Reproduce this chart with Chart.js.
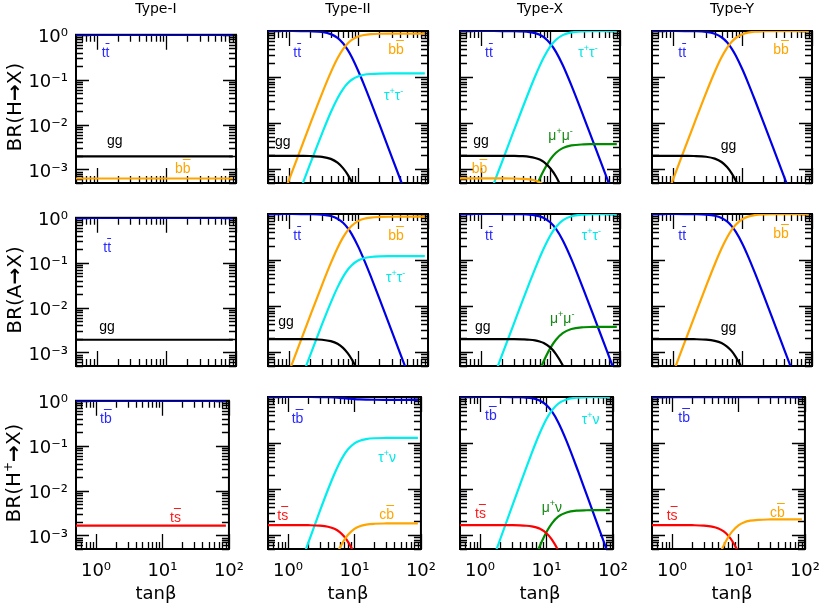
<!DOCTYPE html>
<html><head><meta charset="utf-8">
<script src="https://cdn.jsdelivr.net/npm/chart.js@4.4.1/dist/chart.umd.min.js"></script>
<style>
html,body{margin:0;padding:0;background:#fff;}
#wrap{position:relative;width:830px;height:610px;overflow:hidden;background:#fff;}
canvas{position:absolute;}
.t{position:absolute;white-space:nowrap;}
.title{font-family:"DejaVu Sans";font-size:14px;line-height:14px;transform:translateX(-50%);}
.ytitle{font-family:"DejaVu Sans";font-size:20px;line-height:20px;transform:translate(-50%,-50%) rotate(-90deg);}
.xtitle{font-family:"DejaVu Sans";font-size:18px;line-height:18px;transform:translateX(-50%);}
.lab{font-family:"Liberation Sans";font-size:14px;line-height:14px;}
.ob{text-decoration:overline;}
sup{font-size:9px;vertical-align:0;position:relative;top:-6px;}
.ytitle sup{font-size:12px;top:-8px;}
</style></head>
<body><div id="wrap"></div>
<script>
// ---------- data ----------
const TANB = [0.5, 0.7, 1, 1.5, 2, 3, 4, 5, 6, 7, 8, 10, 12, 15, 20, 30, 40, 50, 70, 90];
const X_TICKS = [1, 10, 100];
const X_TICK_LABELS = ['10⁰', '10¹', '10²'];
const Y_TICKS = [1e-3, 1e-2, 1e-1, 1];
const Y_TICK_LABELS = ['10⁻³', '10⁻²', '10⁻¹', '10⁰'];
const TYPES = ['Type-I', 'Type-II', 'Type-X', 'Type-Y'];
const ROW_TITLES = ['BR(H<b>→</b>X)', 'BR(A<b>→</b>X)', 'BR(H<sup>+</sup><b>→</b>X)'];

// H -> X
const H1_tt = [0.998,0.998,0.998,0.998,0.998,0.998,0.998,0.998,0.998,0.998,0.998,0.998,0.998,0.998,0.998,0.998,0.998,0.998,0.998,0.998];
const H1_gg = [1.95e-3,1.95e-3,1.95e-3,1.95e-3,1.95e-3,1.95e-3,1.95e-3,1.95e-3,1.95e-3,1.95e-3,1.95e-3,1.95e-3,1.95e-3,1.95e-3,1.95e-3,1.95e-3,1.95e-3,1.95e-3,1.95e-3,1.95e-3];
const H1_bb = [6.3e-4,6.3e-4,6.3e-4,6.3e-4,6.3e-4,6.3e-4,6.3e-4,6.3e-4,6.3e-4,6.3e-4,6.3e-4,6.3e-4,6.3e-4,6.3e-4,6.3e-4,6.3e-4,6.3e-4,6.3e-4,6.3e-4,6.3e-4];

const H2_tt = [1.0,1.0,0.999,0.997,0.990,0.950,0.856,0.710,0.541,0.389,0.272,0.132,0.0686,0.0293,0.00945,0.00188,5.96e-4,2.44e-4,6.36e-5,2.33e-5];
const H2_bb = [3.6e-5,1.38e-4,5.76e-4,2.91e-3,9.15e-3,0.0443,0.126,0.255,0.404,0.538,0.641,0.764,0.819,0.854,0.872,0.878,0.88,0.88,0.88,0.88];
const H2_tau = [4.9e-6,1.9e-5,7.9e-5,3.97e-4,1.25e-3,6.0e-3,0.0172,0.0348,0.055,0.0733,0.0874,0.104,0.112,0.1165,0.119,0.12,0.12,0.12,0.12,0.12];
const H2_gg = [1.95e-3,1.95e-3,1.95e-3,1.94e-3,1.93e-3,1.85e-3,1.67e-3,1.38e-3,1.05e-3,7.6e-4,5.3e-4,2.6e-4,1.3e-4,5.7e-5,1.8e-5,3.7e-6,1.2e-6,4.8e-7,1.2e-7,4.5e-8];

const HX_tt = [1,1,1,1,0.9986,0.9929,0.9778,0.9474,0.8968,0.8242,0.7332,0.5295,0.3519,0.1819,0.0657,0.0137,4.38e-3,1.80e-3,4.69e-4,1.71e-4];
const HX_tau = [5.5e-6,2.1e-5,8.8e-5,4.5e-4,1.41e-3,7.1e-3,0.0221,0.0523,0.1027,0.175,0.2655,0.468,0.645,0.814,0.930,0.981,0.991,0.993,0.995,0.995];
const HX_mu = [1.9e-8,7.5e-8,3.1e-7,1.6e-6,5.0e-6,2.5e-5,7.8e-5,1.84e-4,3.6e-4,6.2e-4,9.3e-4,1.65e-3,2.27e-3,2.86e-3,3.27e-3,3.45e-3,3.48e-3,3.49e-3,3.5e-3,3.5e-3];
const HX_gg = [1.95e-3,1.95e-3,1.95e-3,1.95e-3,1.95e-3,1.94e-3,1.91e-3,1.85e-3,1.75e-3,1.61e-3,1.43e-3,1.03e-3,6.9e-4,3.5e-4,1.3e-4,2.7e-5,8.5e-6,3.5e-6,9.1e-7,3.3e-7];
const HX_bb = [6.3e-4,6.3e-4,6.3e-4,6.3e-4,6.29e-4,6.26e-4,6.16e-4,5.97e-4,5.65e-4,5.19e-4,4.62e-4,3.34e-4,2.2e-4,1.1e-4,4.1e-5,8.6e-6,2.8e-6,1.1e-6,3e-7,1.1e-7];

const HY_tt = [1,1,0.9994,0.997,0.9907,0.9545,0.8691,0.7312,0.5674,0.4145,0.2933,0.1453,0.0758,0.0325,0.01051,2.094e-3,6.64e-4,2.72e-4,7.08e-5,2.59e-5];
const HY_bb = [3.7e-5,1.41e-4,5.86e-4,2.96e-3,9.3e-3,0.0454,0.1305,0.268,0.4313,0.5838,0.7046,0.8521,0.9214,0.9646,0.9865,0.9949,0.9963,0.9967,0.997,0.997];
const HY_gg = [1.95e-3,1.95e-3,1.95e-3,1.94e-3,1.93e-3,1.86e-3,1.69e-3,1.43e-3,1.11e-3,8.1e-4,5.7e-4,2.8e-4,1.5e-4,6.3e-5,2.0e-5,4.1e-6,1.3e-6,5.3e-7,1.4e-7,5e-8];

// A -> X
const A1_tt = [0.998,0.998,0.998,0.998,0.998,0.998,0.998,0.998,0.998,0.998,0.998,0.998,0.998,0.998,0.998,0.998,0.998,0.998,0.998,0.998];
const A1_gg = [1.92e-3,1.92e-3,1.92e-3,1.92e-3,1.92e-3,1.92e-3,1.92e-3,1.92e-3,1.92e-3,1.92e-3,1.92e-3,1.92e-3,1.92e-3,1.92e-3,1.92e-3,1.92e-3,1.92e-3,1.92e-3,1.92e-3,1.92e-3];

const A2_tt = [1.0,1.0,1.0,0.998,0.993,0.967,0.902,0.791,0.646,0.496,0.366,0.191,0.102,0.0446,0.0146,0.00291,9.2e-4,3.78e-4,9.85e-5,3.6e-5];
const A2_bb = [2.3e-5,8.9e-5,3.7e-4,1.87e-3,5.9e-3,0.029,0.0855,0.183,0.310,0.441,0.555,0.708,0.786,0.836,0.862,0.872,0.874,0.875,0.875,0.875];
const A2_tau = [3.2e-6,1.24e-5,5.2e-5,2.6e-4,8.2e-4,4.04e-3,0.0119,0.0255,0.0432,0.0615,0.0773,0.0987,0.1096,0.1165,0.1202,0.1216,0.122,0.122,0.122,0.122];
const A2_gg = [1.92e-3,1.92e-3,1.92e-3,1.92e-3,1.91e-3,1.86e-3,1.73e-3,1.52e-3,1.24e-3,9.5e-4,7.0e-4,3.7e-4,2.0e-4,8.6e-5,2.8e-5,5.6e-6,1.8e-6,7.3e-7,1.9e-7,6.9e-8];

const AX_tt = [1,1,1,1,0.9991,0.9957,0.9865,0.9677,0.9353,0.8864,0.8206,0.6521,0.4747,0.2701,0.1048,0.0226,7.27e-3,2.99e-3,7.8e-4,2.86e-4];
const AX_tau = [3.3e-6,1.27e-5,5.3e-5,2.69e-4,8.5e-4,4.28e-3,0.01345,0.0322,0.0644,0.1131,0.1787,0.3465,0.5232,0.727,0.8916,0.9735,0.9887,0.993,0.995,0.996];
const AX_mu = [1.2e-8,4.5e-8,1.9e-7,9.6e-7,3.0e-6,1.5e-5,4.8e-5,1.15e-4,2.3e-4,4.0e-4,6.4e-4,1.24e-3,1.86e-3,2.59e-3,3.18e-3,3.47e-3,3.52e-3,3.54e-3,3.55e-3,3.55e-3];
const AX_gg = [1.92e-3,1.92e-3,1.92e-3,1.92e-3,1.92e-3,1.91e-3,1.89e-3,1.86e-3,1.80e-3,1.70e-3,1.58e-3,1.25e-3,9.1e-4,5.2e-4,2.0e-4,4.3e-5,1.4e-5,5.7e-6,1.5e-6,5.5e-7];

const AY_tt = [1,1,0.9997,0.9982,0.9945,0.9727,0.9185,0.8218,0.6898,0.5455,0.4130,0.2237,0.1220,0.0539,0.01769,3.544e-3,1.124e-3,4.61e-4,1.2e-4,4.39e-5];
const AY_bb = [2.2e-5,8.3e-5,3.46e-4,1.75e-3,5.5e-3,0.0272,0.0812,0.1776,0.3085,0.4524,0.5853,0.7740,0.8754,0.9433,0.9794,0.9935,0.9959,0.9965,0.9969,0.997];
const AY_gg = [1.92e-3,1.92e-3,1.92e-3,1.92e-3,1.91e-3,1.87e-3,1.76e-3,1.58e-3,1.32e-3,1.05e-3,7.9e-4,4.3e-4,2.3e-4,1.0e-4,3.4e-5,6.8e-6,2.2e-6,8.9e-7,2.3e-7,8.4e-8];

// H+ -> X
const C1_tb = [0.998,0.998,0.998,0.998,0.998,0.998,0.998,0.998,0.998,0.998,0.998,0.998,0.998,0.998,0.998,0.998,0.998,0.998,0.998,0.998];
const C1_ts = [1.65e-3,1.65e-3,1.65e-3,1.65e-3,1.65e-3,1.65e-3,1.65e-3,1.65e-3,1.65e-3,1.65e-3,1.65e-3,1.65e-3,1.65e-3,1.65e-3,1.65e-3,1.65e-3,1.65e-3,1.65e-3,1.65e-3,1.65e-3];

const C2_tb = [1.0,1.0,1.0,0.9998,0.9993,0.9967,0.9901,0.9783,0.9618,0.9434,0.9261,0.9007,0.8867,0.8772,0.8721,0.8701,0.8697,0.8696,0.8696,0.8696];
const C2_tau = [2.59e-6,9.94e-6,4.14e-5,2.09e-4,6.59e-4,3.27e-3,9.79e-3,0.02156,0.03794,0.05624,0.07344,0.09868,0.11257,0.12202,0.12708,0.12907,0.12941,0.1295,0.12955,0.12956];
const C2_ts = [1.65e-3,1.65e-3,1.65e-3,1.647e-3,1.642e-3,1.608e-3,1.525e-3,1.375e-3,1.167e-3,9.34e-4,7.15e-4,3.93e-4,2.16e-4,9.6e-5,3.17e-5,6.35e-6,2.0e-6,8.3e-7,2.2e-7,7.9e-8];
const C2_cb = [3.6e-8,1.38e-7,5.75e-7,2.9e-6,9.15e-6,4.54e-5,1.36e-4,3.0e-4,5.27e-4,7.81e-4,1.02e-3,1.37e-3,1.564e-3,1.695e-3,1.765e-3,1.793e-3,1.798e-3,1.799e-3,1.8e-3,1.8e-3];

const CX_tb = [1,1,1,0.9997,0.9992,0.996,0.9874,0.9698,0.9393,0.8931,0.8304,0.6672,0.4916,0.2837,0.1114,0.02416,7.77e-3,3.2e-3,8.35e-4,3.06e-4];
const CX_tau = [3.1e-6,1.2e-5,4.97e-5,2.51e-4,7.94e-4,4.0e-3,0.01256,0.0301,0.0605,0.1065,0.1689,0.3315,0.5064,0.7134,0.885,0.9719,0.9882,0.9928,0.9952,0.9957];
const CX_mu = [1.1e-8,4.2e-8,1.75e-7,8.8e-7,2.8e-6,1.41e-5,4.41e-5,1.06e-4,2.12e-4,3.74e-4,5.94e-4,1.165e-3,1.78e-3,2.51e-3,3.11e-3,3.42e-3,3.47e-3,3.49e-3,3.5e-3,3.5e-3];
const CX_ts = [1.65e-3,1.65e-3,1.65e-3,1.65e-3,1.649e-3,1.643e-3,1.629e-3,1.6e-3,1.55e-3,1.474e-3,1.37e-3,1.10e-3,8.11e-4,4.68e-4,1.84e-4,3.99e-5,1.28e-5,5.3e-6,1.38e-6,5.0e-7];

const CY_tb = [0.998,0.998,0.998,0.998,0.998,0.998,0.998,0.998,0.998,0.998,0.998,0.998,0.998,0.998,0.998,0.998,0.998,0.998,0.998,0.998];
const CY_ts = [1.65e-3,1.65e-3,1.65e-3,1.648e-3,1.642e-3,1.612e-3,1.536e-3,1.398e-3,1.201e-3,9.75e-4,7.56e-4,4.25e-4,2.37e-4,1.01e-4,3.5e-5,7.0e-6,2.2e-6,9.2e-7,2.4e-7,8.7e-8];
const CY_cb = [4e-8,1.5e-7,6.3e-7,3.2e-6,1.01e-5,5.02e-5,1.513e-4,3.36e-4,5.99e-4,9.0e-4,1.192e-3,1.634e-3,1.885e-3,2.059e-3,2.153e-3,2.191e-3,2.197e-3,2.199e-3,2.2e-3,2.2e-3];

// ---------- styles ----------
const COL = {tt:'#0000e6', bb:'#ffa500', gg:'#000000', tau:'#00eeee', mu:'#008a00', ts:'#ff0000', cb:'#ffa500', tb:'#0000e6'};
const LCOL = {tt:'#2a2aff', bb:'#ffa500', gg:'#000000', tau:'#00e8e8', mu:'#168a16', ts:'#ff1a1a', cb:'#ffa500', tb:'#2a2aff'};
const TXT = {
  tt:'t<span class="ob">t</span>', bb:'b<span class="ob">b</span>', gg:'gg',
  tau:'τ<sup>+</sup>τ<sup>-</sup>', mu:'μ<sup>+</sup>μ<sup>-</sup>',
  tb:'t<span class="ob">b</span>', ts:'t<span class="ob">s</span>', cb:'c<span class="ob">b</span>',
  taunu:'τ<sup>+</sup>ν', munu:'μ<sup>+</sup>ν'
};

const PANELS = [
  {r:0,c:0, s:[[H1_bb,'bb'],[H1_gg,'gg'],[H1_tt,'tt']],
   l:[['tt','tt',25.7,26],['gg','gg',31,114],['bb','bb',99,142]]},
  {r:0,c:1, s:[[H2_gg,'gg'],[H2_tau,'tau'],[H2_bb,'bb'],[H2_tt,'tt']],
   l:[['tt','tt',25.3,26.3],['bb','bb',120.3,23],['tau','tau',116,69],['gg','gg',7,114.6]]},
  {r:0,c:2, s:[[HX_bb,'bb'],[HX_gg,'gg'],[HX_mu,'mu'],[HX_tau,'tau'],[HX_tt,'tt']],
   l:[['tt','tt',25,26.3],['tau','tau',118.3,25.7],['gg','gg',13.3,114],['bb','bb',11.7,142.3],['mu','mu',88.3,109]]},
  {r:0,c:3, s:[[HY_gg,'gg'],[HY_bb,'bb'],[HY_tt,'tt']],
   l:[['tt','tt',26.3,26.3],['bb','bb',121.3,23],['gg','gg',68.7,119]]},
  {r:1,c:0, s:[[A1_gg,'gg'],[A1_tt,'tt']],
   l:[['tt','tt',27.3,37.7],['gg','gg',23.3,116.6]]},
  {r:1,c:1, s:[[A2_gg,'gg'],[A2_tau,'tau'],[A2_bb,'bb'],[A2_tt,'tt']],
   l:[['tt','tt',25.3,26],['bb','bb',120.3,26],['tau','tau',118,68.3],['gg','gg',10.3,111.6]]},
  {r:1,c:2, s:[[AX_gg,'gg'],[AX_mu,'mu'],[AX_tau,'tau'],[AX_tt,'tt']],
   l:[['tt','tt',25,26],['tau','tau',121.7,26],['gg','gg',15,116.6],['mu','mu',90,109]]},
  {r:1,c:3, s:[[AY_gg,'gg'],[AY_bb,'bb'],[AY_tt,'tt']],
   l:[['tt','tt',26.3,26],['bb','bb',121.3,24.3],['gg','gg',68.7,118.3]]},
  {r:2,c:0, s:[[C1_ts,'ts'],[C1_tb,'tb']],
   l:[['tb','tb',24,26.3],['ts','ts',94,124.7]]},
  {r:2,c:1, s:[[C2_cb,'cb'],[C2_ts,'ts'],[C2_tau,'tau'],[C2_tb,'tb']],
   l:[['tb','tb',23.7,26.3],['taunu','tau',110.3,64.7],['ts','ts',9.3,123],['cb','cb',111.3,122.3]]},
  {r:2,c:2, s:[[CX_ts,'ts'],[CX_mu,'mu'],[CX_tau,'tau'],[CX_tb,'tb']],
   l:[['tb','tb',25,23],['taunu','tau',121.7,27.3],['munu','mu',81.7,114.7],['ts','ts',15,121.3]]},
  {r:2,c:3, s:[[CY_cb,'cb'],[CY_ts,'ts'],[CY_tb,'tb']],
   l:[['tb','tb',26.3,24.7],['ts','ts',14.7,123],['cb','cb',118,119.7]]}
];

// ---------- layout ----------
const PW = 160, PH = 152;
const colLeft = c => 76 + 192 * c;
const rowTop = r => 31 + 183 * r;
const ML = 80, MT = 15, MR = 20, MB = 60;

const frameTicks = {
  id: 'frameTicks',
  beforeDatasetsDraw(chart) {
    const {ctx, chartArea: a, scales: {x, y}} = chart;
    ctx.save();
    ctx.strokeStyle = '#000';
    ctx.lineWidth = 1.3;
    ctx.beginPath();
    for (let e = -1; e <= 2; e++) for (let m = 1; m <= 9; m++) {
      const v = m * Math.pow(10, e);
      if (v < x.min - 1e-9 || v > x.max + 1e-9) continue;
      const px = Math.round(x.getPixelForValue(v)) + 0.5;
      const len = m === 1 ? 15 : 7;
      ctx.moveTo(px, a.bottom); ctx.lineTo(px, a.bottom - len);
      ctx.moveTo(px, a.top); ctx.lineTo(px, a.top + len);
    }
    for (let e = -4; e <= 0; e++) for (let m = 1; m <= 9; m++) {
      const v = m * Math.pow(10, e);
      if (v < y.min * 0.999 || v > y.max * 1.001) continue;
      const py = Math.round(y.getPixelForValue(v)) + 0.5;
      const len = m === 1 ? 13 : 7;
      ctx.moveTo(a.left, py); ctx.lineTo(a.left + len, py);
      ctx.moveTo(a.right, py); ctx.lineTo(a.right - len, py);
    }
    ctx.stroke();
    ctx.lineWidth = 2;
    ctx.strokeRect(a.left, a.top, a.right - a.left, a.bottom - a.top);
    ctx.restore();
  }
};

const wrap = document.getElementById('wrap');
function addDiv(cls, html, left, top, color) {
  const d = document.createElement('div');
  d.className = 't ' + cls;
  d.innerHTML = html;
  d.style.left = left + 'px';
  d.style.top = top + 'px';
  if (color) d.style.color = color;
  wrap.appendChild(d);
}

PANELS.forEach(p => {
  const PL = colLeft(p.c), PT = rowTop(p.r);
  const cv = document.createElement('canvas');
  cv.width = PW + ML + MR; cv.height = PH + MT + MB;
  cv.style.width = cv.width + 'px'; cv.style.height = cv.height + 'px';
  cv.style.left = (PL - ML) + 'px'; cv.style.top = (PT - MT) + 'px';
  wrap.appendChild(cv);
  new Chart(cv, {
    type: 'line',
    data: {datasets: p.s.map(([vals, key]) => ({
      data: TANB.map((t, i) => ({x: t, y: vals[i]})),
      borderColor: COL[key], borderWidth: 2.2, pointRadius: 0,
      cubicInterpolationMode: 'monotone', fill: false
    }))},
    options: {
      responsive: false, animation: false, events: [], devicePixelRatio: 1,
      layout: {padding: {left: 0, top: MT, right: MR, bottom: 0}},
      plugins: {legend: {display: false}, tooltip: {enabled: false}},
      scales: {
        x: {type: 'logarithmic', min: 0.5, max: 100,
            grid: {display: false, drawTicks: false}, border: {display: false},
            afterBuildTicks: s => { s.ticks = X_TICKS.map(v => ({value: v})); },
            afterFit: s => { s.height = MB; },
            ticks: {display: p.r === 2, padding: 12, color: '#000', autoSkip: false, maxRotation: 0,
                    font: {family: 'DejaVu Sans', size: 18},
                    callback: (v, i) => X_TICK_LABELS[i]}},
        y: {type: 'logarithmic', min: 5e-4, max: 1,
            grid: {display: false, drawTicks: false}, border: {display: false},
            afterBuildTicks: s => { s.ticks = Y_TICKS.map(v => ({value: v})); },
            afterFit: s => { s.width = ML; },
            ticks: {display: p.c === 0, padding: 8, labelOffset: 3, color: '#000', autoSkip: false,
                    font: {family: 'DejaVu Sans', size: 18},
                    callback: (v, i) => Y_TICK_LABELS[i]}}
      }
    },
    plugins: [frameTicks]
  });
  p.l.forEach(([txt, ck, dx, dy]) => addDiv('lab', TXT[txt], PL + dx, PT + dy - 11.85, LCOL[ck]));
});

TYPES.forEach((t, c) => addDiv('title', t, colLeft(c) + PW / 2, 1));
ROW_TITLES.forEach((t, r) => addDiv('ytitle', t, 14, rowTop(r) + PH / 2));
TYPES.forEach((t, c) => addDiv('xtitle', 'tanβ', colLeft(c) + PW / 2, 584));
</script>
</body></html>
